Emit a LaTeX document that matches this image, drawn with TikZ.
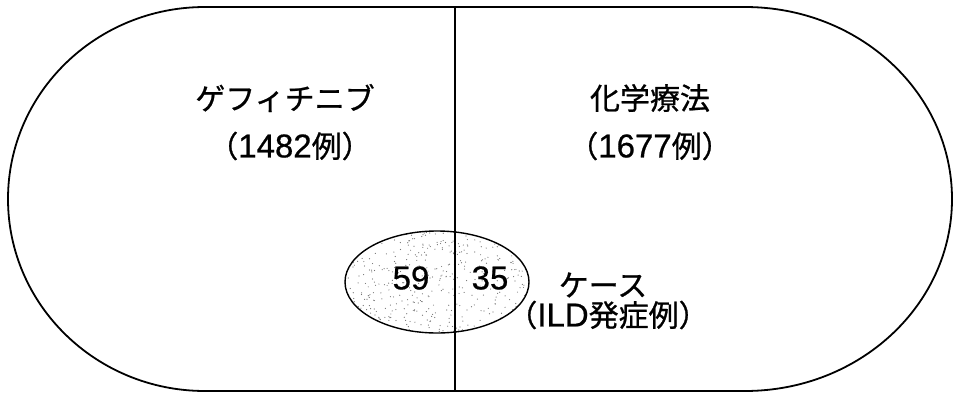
\documentclass[tikz,border=0pt]{standalone}
\usepackage{fontspec}
\newfontfamily\jp[FakeBold=0.8]{Noto Sans CJK JP}
\newfontfamily\lat[FakeBold=0.6]{Liberation Sans}
\newcommand{\dg}[1]{{\lat\fontsize{33}{34}\selectfont #1}}
\begin{document}
\begin{tikzpicture}[x=1pt,y=-1pt,
  outline/.style={draw=black,line width=1.8pt},
  lbl/.style={font=\jp\fontsize{30}{32}\selectfont,inner sep=0pt}]
\useasboundingbox (0,0) rectangle (955,396);
% outer stadium
\draw[outline] (205,7) -- (745,7)
  arc[start angle=-90,end angle=90,x radius=207,y radius=192]
  -- (205,391)
  arc[start angle=90,end angle=270,x radius=197,y radius=192] -- cycle;
% small ellipse with stipple
\begin{scope}
  \clip (437,282) ellipse[x radius=92,y radius=51];
  \pgfmathsetseed{7}
  \foreach \i in {1,...,500}{
    \pgfmathsetmacro{\px}{343+190*rnd}
    \pgfmathsetmacro{\py}{229+106*rnd}
    \fill[black!55] (\px,\py) circle[radius=0.6];
  }
\end{scope}
\draw[black,line width=1.4pt] (437,282) ellipse[x radius=92,y radius=51];
% divider
\coordinate (top) at (455,7);
\coordinate (bot) at (455,391);
\draw[black,line width=1.8pt] (top) -- (bot);
% labels
\node[lbl] (g) at (285,98) {ゲフィチニブ};
\node[lbl] (gn) at (290,146) {（\dg{1482}例）};
\node[lbl] (c) at (650,98) {化学療法};
\node[lbl] (cn) at (650,146) {（\dg{1677}例）};
\node[lbl] (a) at (411,278) {\dg{59}};
\node[lbl] (b) at (490,278) {\dg{35}};
\node[lbl] (k) at (603,285) {ケース};
\node[lbl] (ild) at (608,315) {（\dg{ILD}発症例）};
\end{tikzpicture}
\end{document}
